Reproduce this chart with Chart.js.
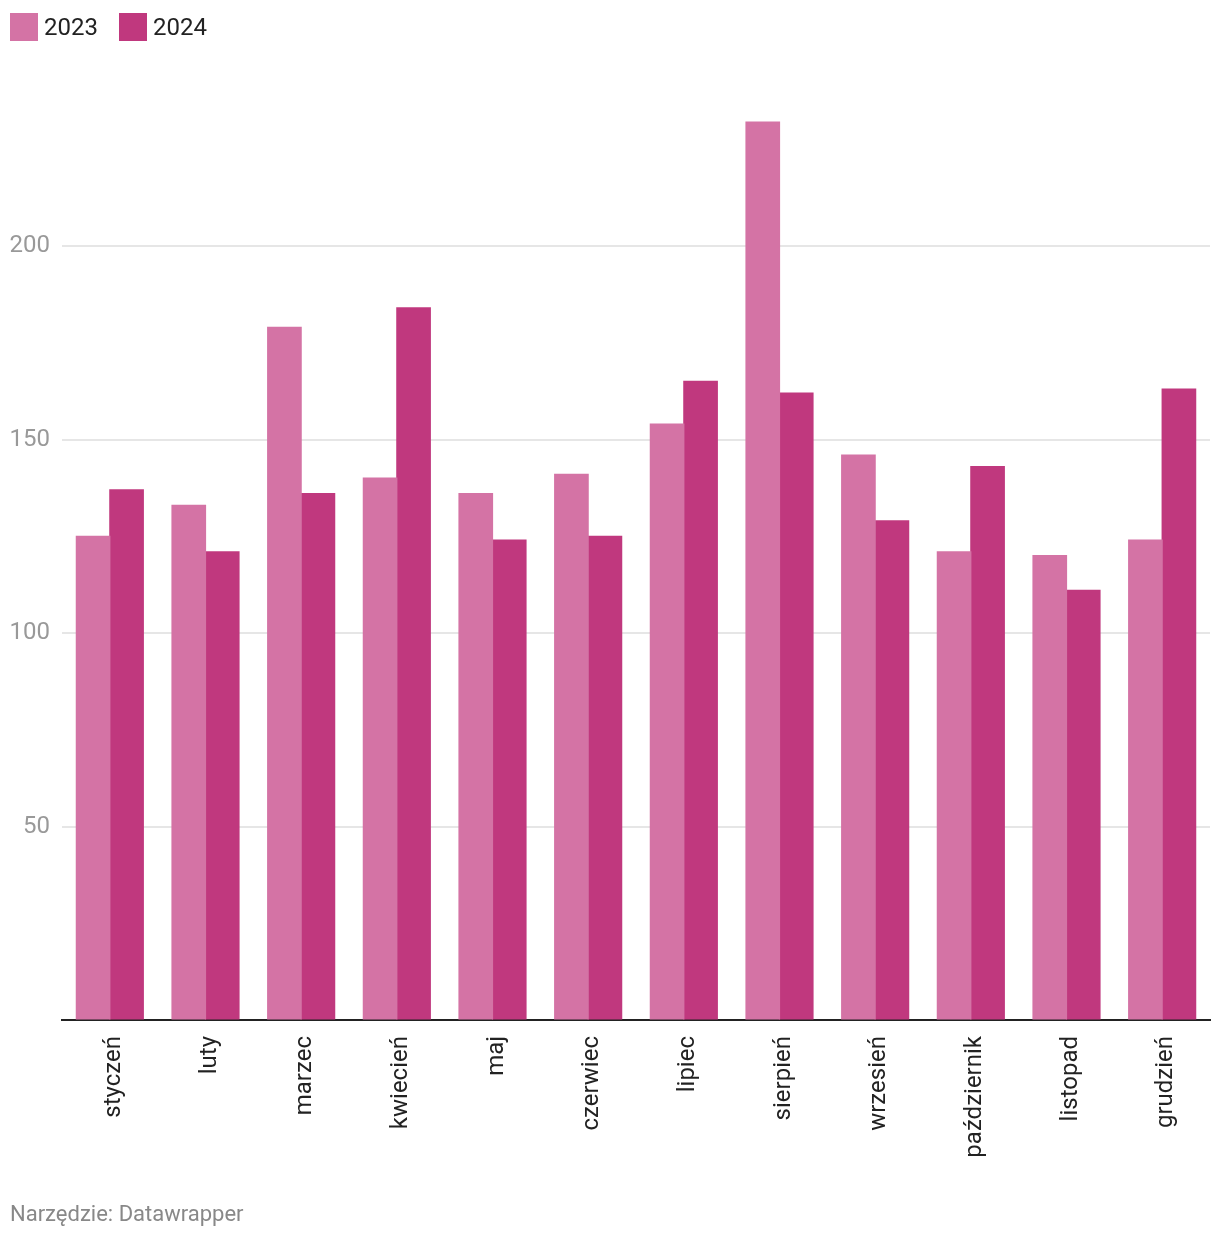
<!DOCTYPE html>
<html>
<head>
<meta charset="utf-8">
<script src="https://cdn.jsdelivr.net/npm/chart.js@4/dist/chart.umd.min.js"></script>
<style>
  html, body { margin: 0; padding: 0; background: #fff; }
  body { width: 1220px; height: 1240px; position: relative; overflow: hidden; font-family: Roboto, "Noto Sans", sans-serif; }
  #c { position: absolute; left: 0; top: 0; }
  #legend { position: absolute; left: 10px; top: 13px; display: flex; align-items: center; font-size: 24px; color: #222; }
  .item { display: flex; align-items: center; margin-right: 21px; }
  .sw { width: 28px; height: 28px; margin-right: 6px; }
  #footer { position: absolute; left: 10px; top: 1201px; font-size: 22px; color: #888; }
</style>
</head>
<body>
<canvas id="c" width="1220" height="1240" style="width:1220px;height:1240px"></canvas>
<div id="legend"></div>
<div id="footer">Narzędzie: Datawrapper</div>
<script>
const categories = ["styczeń","luty","marzec","kwiecień","maj","czerwiec","lipiec","sierpień","wrzesień","październik","listopad","grudzień"];
const values2023 = [125, 133, 179, 140, 136, 141, 154, 232, 146, 121, 120, 124];
const values2024 = [137, 121, 136, 184, 124, 125, 165, 162, 129, 143, 111, 163];
const seriesNames = ["2023", "2024"];
const seriesColors = ["#d473a5", "#c0387e"];
const yTicks = [0, 50, 100, 150, 200];

const legend = document.getElementById('legend');
seriesNames.forEach((n, i) => {
  const it = document.createElement('div'); it.className = 'item';
  const sw = document.createElement('div'); sw.className = 'sw'; sw.style.background = seriesColors[i];
  const t = document.createElement('span'); t.textContent = n;
  it.appendChild(sw); it.appendChild(t); legend.appendChild(it);
});

new Chart(document.getElementById('c'), {
  type: 'bar',
  data: {
    labels: categories,
    datasets: [
      { label: seriesNames[0], data: values2023, backgroundColor: seriesColors[0], categoryPercentage: 0.7, barPercentage: 1.0, inflateAmount: 0.6 },
      { label: seriesNames[1], data: values2024, backgroundColor: seriesColors[1], categoryPercentage: 0.7, barPercentage: 1.0, inflateAmount: 0.6 }
    ]
  },
  options: {
    responsive: false,
    animation: false,
    devicePixelRatio: 1,
    layout: { padding: { left: 0, right: 10, top: 52.5, bottom: 70 } },
    plugins: { legend: { display: false }, tooltip: { enabled: false } },
    scales: {
      x: {
        grid: { display: false },
        border: { display: true, color: '#222', width: 2 },
        ticks: { maxRotation: 90, minRotation: 90, padding: 8, labelOffset: 4, color: '#222', font: { family: 'Roboto', size: 24 } },
        afterFit: s => { s.height = 150; }
      },
      y: {
        min: 0, max: 250,
        afterBuildTicks: s => { s.ticks = yTicks.map(v => ({ value: v })); },
        border: { display: false },
        grid: { drawTicks: false, lineWidth: 2, color: c => (c.tick && c.tick.value === 0) ? 'rgba(0,0,0,0)' : '#e6e6e6' },
        ticks: { padding: 12, color: '#999', font: { family: 'Roboto', size: 24 }, callback: v => v === 0 ? '' : String(v) },
        afterFit: s => { s.width = 62; }
      }
    }
  }
});
</script>
</body>
</html>
